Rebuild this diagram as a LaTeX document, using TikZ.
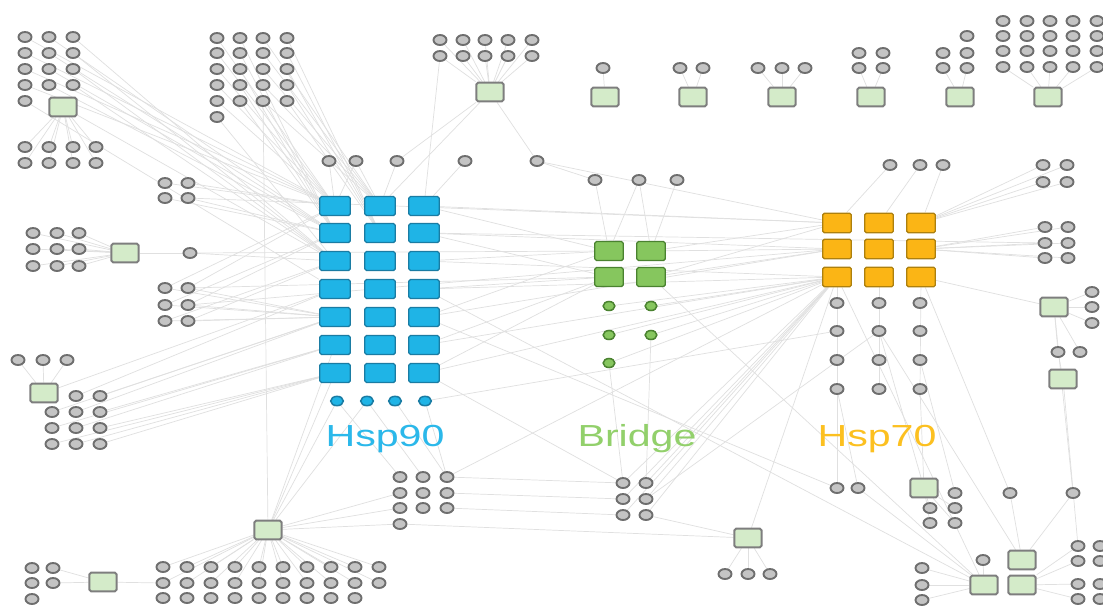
\documentclass[tikz,border=0pt]{standalone}
\usepackage{fontspec}
\setmainfont{Liberation Sans}
\usetikzlibrary{shapes.geometric,backgrounds}

\definecolor{linkgray}{HTML}{E0E0E0}
\definecolor{protfill}{HTML}{C4C4C4}
\definecolor{protline}{HTML}{6E6E6E}
\definecolor{cplxfill}{HTML}{D4EBC9}
\definecolor{cplxline}{HTML}{7E7E7E}
\definecolor{hspblue}{HTML}{1FB4E6}
\definecolor{hspblueline}{HTML}{1A7CA3}
\definecolor{bridgegreen}{HTML}{86C65E}
\definecolor{bridgeline}{HTML}{4A8230}
\definecolor{hsporange}{HTML}{FBB515}
\definecolor{hsporangeline}{HTML}{AD800E}
\definecolor{labelblue}{HTML}{2BB8EA}
\definecolor{labelgreen}{HTML}{92D06B}
\definecolor{labelorange}{HTML}{FCC020}

\tikzset{
  prot/.style={ellipse, draw=protline, fill=protfill, line width=1.6pt,
    minimum width=0.39cm, minimum height=0.3cm, inner sep=0pt},
  cplx/.style={rectangle, rounded corners=1.5pt, draw=cplxline, fill=cplxfill,
    line width=1.7pt, minimum width=0.82cm, minimum height=0.56cm, inner sep=0pt},
  hspninety/.style={rectangle, rounded corners=1.5pt, draw=hspblueline, fill=hspblue,
    line width=1.1pt, minimum width=0.92cm, minimum height=0.57cm, inner sep=0pt},
  hspninetyprot/.style={ellipse, draw=hspblueline, fill=hspblue, line width=1.3pt,
    minimum width=0.38cm, minimum height=0.28cm, inner sep=0pt},
  bridge/.style={rectangle, rounded corners=1.5pt, draw=bridgeline, fill=bridgegreen,
    line width=1.1pt, minimum width=0.86cm, minimum height=0.57cm, inner sep=0pt},
  bridgeprot/.style={ellipse, draw=bridgeline, fill=bridgegreen, line width=1.3pt,
    minimum width=0.35cm, minimum height=0.27cm, inner sep=0pt},
  hspseventy/.style={rectangle, rounded corners=1.5pt, draw=hsporangeline, fill=hsporange,
    line width=1.1pt, minimum width=0.86cm, minimum height=0.59cm, inner sep=0pt},
  link/.style={draw=linkgray, line width=0.6pt},
  grouplabel/.style={font=\fontsize{26}{26}\selectfont, inner sep=0pt, anchor=base}
}

\begin{document}
\begin{tikzpicture}[x=0.03cm,y=-0.03cm]
\useasboundingbox (0,0) rectangle (1103,605);

\foreach \x [count=\c] in {25,49,73} \foreach \y [count=\r] in {37,53,69,85} \node[prot] (tla-\r-\c) at (\x,\y) {};
\node[prot] (tla-5-1) at (25,101) {};
\node[cplx] (tlsq) at (63,107) {};
\foreach \x [count=\c] in {25,49,73,96} \foreach \y [count=\r] in {147,163} \node[prot] (tlb-\r-\c) at (\x,\y) {};
\foreach \x [count=\c] in {217,240,263,287} \foreach \y [count=\r] in {38,53,69,85,101} \node[prot] (tc-\r-\c) at (\x,\y) {};
\node[prot] (tc-6-1) at (217,117) {};
\foreach \x [count=\c] in {440,463,485,508,532} \foreach \y [count=\r] in {40,56} \node[prot] (td-\r-\c) at (\x,\y) {};
\node[cplx] (tdsq) at (490,92) {};

\node[cplx] (topsq-1) at (605,97) {};
\node[prot] (topc-1) at (603,68) {};
\node[cplx] (topsq-2) at (693,97) {};
\node[prot] (topc-2-1) at (680,68) {};
\node[prot] (topc-2-2) at (703,68) {};
\node[cplx] (topsq-3) at (782,97) {};
\foreach \x [count=\c] in {758,782,805} \node[prot] (topc-3-\c) at (\x,68) {};
\node[cplx] (topsq-4) at (871,97) {};
\foreach \x [count=\c] in {859,883} \foreach \y [count=\r] in {53,68} \node[prot] (topc-4-\r-\c) at (\x,\y) {};
\node[cplx] (topsq-5) at (960,97) {};
\node[prot] (topc-5-0) at (967,36) {};
\foreach \x [count=\c] in {943,967} \foreach \y [count=\r] in {53,68} \node[prot] (topc-5-\r-\c) at (\x,\y) {};
\node[cplx] (topsq-6) at (1048,97) {};
\foreach \x [count=\c] in {1003,1027,1050,1073,1097} \foreach \y [count=\r] in {21,36,51,67} \node[prot] (topc-6-\r-\c) at (\x,\y) {};

\foreach \x [count=\i] in {329,356,397,465,537} \node[prot] (mid-\i) at (\x,161) {};
\foreach \x [count=\i] in {595,639,677} \node[prot] (midb-\i) at (\x,180) {};

\foreach \x [count=\c] in {165,188} \foreach \y [count=\r] in {183,198} \node[prot] (ln-\r-\c) at (\x,\y) {};
\foreach \x [count=\c] in {33,57,79} \foreach \y [count=\r] in {233,249,266} \node[prot] (lp-\r-\c) at (\x,\y) {};
\node[cplx] (lpsq) at (125,253) {};
\node[prot] (lq) at (190,253) {};
\foreach \x [count=\c] in {165,188} \foreach \y [count=\r] in {288,305,321} \node[prot] (lr-\r-\c) at (\x,\y) {};
\foreach \x [count=\i] in {18,43,67} \node[prot] (ls-\i) at (\x,360) {};
\node[cplx] (lssq) at (44,393) {};
\node[prot] (lt-1-2) at (76,396) {};
\node[prot] (lt-1-3) at (100,396) {};
\foreach \x [count=\c] in {52,76,100} \foreach \y [count=\r from 2] in {412,428,444} \node[prot] (lt-\r-\c) at (\x,\y) {};

\foreach \x [count=\c] in {335,380,424} \foreach \y [count=\r] in {206,233,261,289,317,345,373} \node[hspninety] (hsp90-\r-\c) at (\x,\y) {};
\foreach \x [count=\i] in {337,367,395,425} \node[hspninetyprot] (hsp90c-\i) at (\x,401) {};

\foreach \x [count=\c] in {609,651} \foreach \y [count=\r] in {251,277} \node[bridge] (br-\r-\c) at (\x,\y) {};
\foreach \x/\y [count=\i] in {609/306,651/306,609/335,651/335,609/363} \node[bridgeprot] (brc-\i) at (\x,\y) {};

\foreach \x [count=\c] in {837,879,921} \foreach \y [count=\r] in {223,249,277} \node[hspseventy] (hsp70-\r-\c) at (\x,\y) {};
\foreach \x [count=\c] in {837,879,920} \foreach \y [count=\r] in {303,331,360,389} \node[prot] (hsp70c-\r-\c) at (\x,\y) {};

\foreach \x [count=\i] in {890,920,943} \node[prot] (rt-\i) at (\x,165) {};
\foreach \x [count=\c] in {1043,1067} \foreach \y [count=\r] in {165,182} \node[prot] (rq-\r-\c) at (\x,\y) {};
\foreach \x [count=\c] in {1045,1068} \foreach \y [count=\r] in {227,243,258} \node[prot] (rs-\r-\c) at (\x,\y) {};
\node[cplx] (rusq) at (1054,307) {};
\foreach \y [count=\i] in {292,307,323} \node[prot] (ru-\i) at (1092,\y) {};
\node[prot] (rv-1) at (1058,352) {};
\node[prot] (rv-2) at (1080,352) {};
\node[cplx] (rvsq) at (1063,379) {};

\node[cplx] (bsq) at (268,530) {};
\foreach \c in {1,...,10} \foreach \y [count=\r] in {567,583} \node[prot] (bg-\r-\c) at ({163+24*(\c-1)},\y) {};
\foreach \c in {1,...,9} \node[prot] (bg-3-\c) at ({163+24*(\c-1)},598) {};
\foreach \x [count=\c] in {400,423,447} \foreach \y [count=\r] in {477,493,508} \node[prot] (bc-\r-\c) at (\x,\y) {};
\node[prot] (bc-4-1) at (400,524) {};
\foreach \x [count=\c] in {623,646} \foreach \y [count=\r] in {483,499,515} \node[prot] (bd-\r-\c) at (\x,\y) {};
\node[cplx] (bxsq) at (748,538) {};
\foreach \x [count=\i] in {725,748,770} \node[prot] (bx-\i) at (\x,574) {};
\foreach \x [count=\c] in {32,53} \foreach \y [count=\r] in {568,583} \node[prot] (bl-\r-\c) at (\x,\y) {};
\node[prot] (bl-3-1) at (32,599) {};
\node[cplx] (blsq) at (103,582) {};

\node[prot] (sr-1-1) at (837,488) {};
\node[prot] (sr-1-2) at (858,488) {};
\node[cplx] (srsq-1) at (924,488) {};
\node[prot] (sr-2-1) at (955,493) {};
\foreach \x [count=\c] in {930,955} \foreach \y [count=\r from 3] in {508,523} \node[prot] (sr-\r-\c) at (\x,\y) {};
\node[prot] (sr-5) at (1010,493) {};
\node[prot] (sr-6) at (1073,493) {};
\node[prot] (sr-7) at (983,560) {};
\node[cplx] (srsq-2) at (1022,560) {};
\node[cplx] (srsq-3) at (984,585) {};
\node[cplx] (srsq-4) at (1022,585) {};
\foreach \y [count=\i] in {568,585,600} \node[prot] (sr-8-\i) at (922,\y) {};
\foreach \x [count=\c] in {1078,1100} \foreach \y [count=\r] in {546,561,584,599} \node[prot] (sr-9-\r-\c) at (\x,\y) {};

\node[grouplabel, text=labelblue] (hsp90label) at (385,446) {\scalebox{1.35}[1]{Hsp90}};
\node[grouplabel, text=labelgreen] (bridgelabel) at (637,446) {\scalebox{1.35}[1]{Bridge}};
\node[grouplabel, text=labelorange] (hsp70label) at (877,446) {\scalebox{1.35}[1]{Hsp70}};

\begin{scope}[on background layer]
\fill[white] (0,0) rectangle (1103,605);
\foreach \r in {1,...,4} \foreach \c in {1,2,3} \path[draw,link] (tla-\r-\c) -- (hsp90-\c-1);
\path[draw,link] (tla-5-1) -- (hsp90-4-1);
\path[draw,link] (tlsq) -- (hsp90-3-1);
\foreach \r in {1,2} \foreach \c in {1,...,4} \path[draw,link] (tlsq) -- (tlb-\r-\c);
\foreach \r in {1,...,5} \foreach \c/\t in {1/1-1,2/2-1,3/1-2,4/2-2} \path[draw,link] (tc-\r-\c) -- (hsp90-\t);
\path[draw,link] (tc-6-1) -- (hsp90-3-1);
\path[draw,link] (tc-5-3) -- (bsq);
\foreach \r in {1,2} \foreach \c in {1,...,5} \path[draw,link] (td-\r-\c) -- (tdsq);
\path[draw,link] (tdsq) -- (mid-3);
\path[draw,link] (tdsq) -- (mid-5);
\path[draw,link] (tdsq) -- (hsp90-1-2);
\path[draw,link] (td-2-1) -- (hsp90-1-3);

\path[draw,link] (topsq-1) -- (topc-1);
\foreach \i in {1,2} \path[draw,link] (topsq-2) -- (topc-2-\i);
\foreach \i in {1,2,3} \path[draw,link] (topsq-3) -- (topc-3-\i);
\foreach \c in {1,2} \path[draw,link] (topsq-4) -- (topc-4-2-\c);
\foreach \c in {1,2} \path[draw,link] (topsq-5) -- (topc-5-2-\c);
\foreach \c in {1,...,5} \path[draw,link] (topsq-6) -- (topc-6-4-\c);

\path[draw,link] (mid-1) -- (hsp90-1-1);
\path[draw,link] (mid-2) -- (hsp90-1-1);
\path[draw,link] (mid-2) -- (hsp90-1-2);
\path[draw,link] (mid-3) -- (hsp90-1-2);
\path[draw,link] (mid-4) -- (hsp90-1-3);
\path[draw,link] (mid-5) -- (midb-1);
\path[draw,link] (midb-1) -- (br-1-1);
\path[draw,link] (midb-2) -- (br-1-1);
\path[draw,link] (midb-2) -- (br-1-2);
\path[draw,link] (midb-3) -- (br-1-2);

\foreach \r in {1,2} \foreach \c in {1,2} \path[draw,link] (ln-\r-\c) -- (hsp90-\r-1);
\foreach \r in {1,2,3} \foreach \c in {1,2,3} \path[draw,link] (lp-\r-\c) -- (lpsq);
\path[draw,link] (lpsq) -- (lq);
\path[draw,link] (lq) -- (hsp90-3-1);
\path[draw,link] (lq) -- (br-1-1);
\foreach \r in {1,2,3} \foreach \c in {1,2} {
  \path[draw,link] (lr-\r-\c) -- (hsp90-\r-1);
  \path[draw,link] (lr-\r-\c) -- (hsp90-5-1);
}
\path[draw,link] (ln-2-2) -- (hsp70-1-1);
\path[draw,link] (lr-2-2) -- (hsp70-2-1);
\path[draw,link] (lr-1-2) -- (br-2-1);

\foreach \i in {1,2,3} \path[draw,link] (ls-\i) -- (lssq);
\foreach \n/\t in {lssq/4-1,lt-1-2/4-1,lt-1-3/5-1,lt-2-1/5-1,lt-2-2/5-1,lt-2-3/6-1,lt-3-1/6-1,lt-3-2/6-1,lt-3-3/7-1,lt-4-1/7-1,lt-4-2/7-1,lt-4-3/7-1} \path[draw,link] (\n) -- (hsp90-\t);

\foreach \c in {1,...,10} \foreach \r in {1,2} \path[draw,link] (bsq) -- (bg-\r-\c);
\path[draw,link] (bsq) -- (hsp90-7-1);
\path[draw,link] (bsq) -- (hsp90-6-1);
\path[draw,link] (bsq) -- (hsp90c-1);
\path[draw,link] (bsq) -- (hsp90c-2);
\foreach \r in {2,3} \path[draw,link] (bsq) -- (bc-\r-1);
\path[draw,link] (bsq) -- (bc-4-1);
\path[draw,link] (blsq) -- (bl-2-2);
\path[draw,link] (blsq) -- (bl-1-2);
\path[draw,link] (blsq) -- (bg-2-1);

\foreach \c in {1,2,3} \path[draw,link] (bc-1-\c) -- (hsp90c-\c);
\path[draw,link] (bc-1-3) -- (hsp90c-4);
\foreach \r in {1,2,3} \path[draw,link] (bc-\r-3) -- (bd-\r-1);
\path[draw,link] (bc-4-1) -- (bxsq);
\path[draw,link] (bc-1-3) -- (hsp70-3-1);
\foreach \r in {1,2,3} \foreach \c in {1,2} \path[draw,link] (bd-\r-\c) -- (hsp70-3-1);
\path[draw,link] (bd-1-1) -- (brc-5);
\path[draw,link] (bd-1-2) -- (brc-4);
\path[draw,link] (bd-3-2) -- (bxsq);
\path[draw,link] (bd-2-2) -- (hsp70c-2-2);
\foreach \i in {1,2,3} \path[draw,link] (bxsq) -- (bx-\i);
\path[draw,link] (bxsq) -- (hsp70-3-1);

\foreach \r/\t in {1/1-1,2/2-1,3/1-1,4/2-1,5/1-1,6/2-1,7/2-1} \path[draw,link] (hsp90-\r-3) -- (br-\t);
\foreach \r/\t in {1/1-1,2/2-1,3/3-1,4/3-1,5/2-1,6/3-1,7/3-1} \path[draw,link] (hsp90-\r-3) -- (hsp70-\t);
\foreach \r in {1,2} \foreach \c in {1,2} \path[draw,link] (br-\r-2) -- (hsp70-\c-1);
\foreach \i in {1,...,5} \path[draw,link] (brc-\i) -- (hsp70-3-1);
\path[draw,link] (hsp90c-4) -- (hsp70c-2-1);
\path[draw,link] (hsp90-7-3) -- (bd-1-1);
\path[draw,link] (hsp90-5-3) -- (sr-1-1);
\path[draw,link] (hsp90-4-3) -- (srsq-3);
\path[draw,link] (br-2-2) -- (srsq-3);
\path[draw,link] (hsp90-2-3) -- (rs-2-1);
\path[draw,link] (mid-5) -- (hsp70-1-1);

\foreach \i in {1,2,3} \path[draw,link] (rt-\i) -- (hsp70-1-\i);
\foreach \r in {1,2} \foreach \c in {1,2} \path[draw,link] (rq-\r-\c) -- (hsp70-1-3);
\foreach \r in {1,2,3} \foreach \c in {1,2} \path[draw,link] (rs-\r-\c) -- (hsp70-2-3);
\path[draw,link] (rusq) -- (hsp70-3-3);
\foreach \i in {1,2,3} \path[draw,link] (rusq) -- (ru-\i);
\foreach \i in {1,2} \path[draw,link] (rusq) -- (rv-\i);
\path[draw,link] (rvsq) -- (rv-1);
\path[draw,link] (rvsq) -- (sr-9-1-1);
\path[draw,link] (rusq) -- (sr-6);

\foreach \c in {1,2,3} \path[draw,link] (hsp70-3-\c) -- (hsp70c-4-\c);
\path[draw,link] (hsp70c-4-1) -- (sr-1-1);
\path[draw,link] (hsp70c-4-1) -- (sr-1-2);
\path[draw,link] (hsp70c-4-3) -- (srsq-1);
\path[draw,link] (hsp70c-2-2) -- (srsq-1);
\path[draw,link] (hsp70c-3-3) -- (sr-2-1);
\path[draw,link] (hsp70-3-3) -- (sr-5);
\path[draw,link] (hsp70-3-1) -- (srsq-3);
\path[draw,link] (hsp70c-2-2) -- (srsq-2);
\foreach \r in {3,4} \foreach \c in {1,2} \path[draw,link] (srsq-1) -- (sr-\r-\c);
\path[draw,link] (sr-5) -- (srsq-2);
\path[draw,link] (sr-6) -- (srsq-2);
\path[draw,link] (sr-7) -- (srsq-3);
\foreach \i in {1,2,3} \path[draw,link] (srsq-3) -- (sr-8-\i);
\foreach \r in {1,...,4} \path[draw,link] (srsq-4) -- (sr-9-\r-1);
\path[draw,link] (sr-1-2) -- (srsq-3);
\end{scope}
\end{tikzpicture}
\end{document}
